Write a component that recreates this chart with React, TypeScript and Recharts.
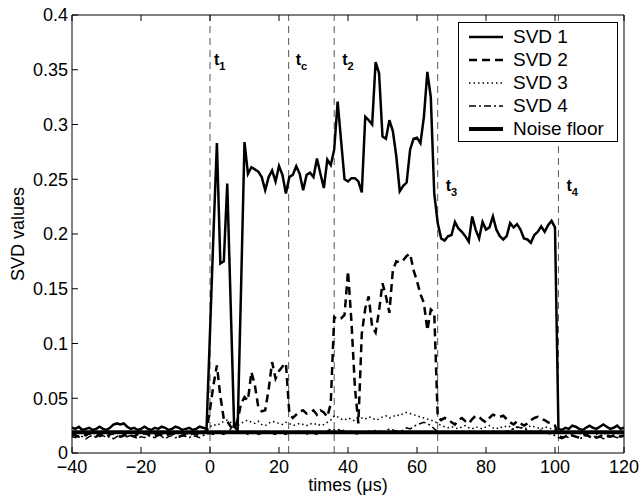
import { LineChart, Line, XAxis, YAxis, ReferenceLine, Legend } from "recharts";

// one sample per microsecond, starting at -40 us
const startTime = -40;

// SVD 1 (solid)
const svd1 = [
  0.023, 0.022, 0.024, 0.021, 0.022, 0.023, 0.021, 0.022, 0.024, 0.022,
  0.021, 0.023, 0.026, 0.027, 0.026, 0.027, 0.024, 0.022, 0.023, 0.021,
  0.022, 0.024, 0.022, 0.021, 0.023, 0.022, 0.024, 0.023, 0.021, 0.022,
  0.024, 0.023, 0.021, 0.022, 0.023, 0.021, 0.022, 0.024, 0.023, 0.022,
  0.11, 0.2, 0.283, 0.173, 0.175, 0.246, 0.135, 0.024, 0.021, 0.15,
  0.284, 0.255, 0.261, 0.259, 0.257, 0.252, 0.24, 0.252, 0.258, 0.248,
  0.262, 0.254, 0.237, 0.252, 0.254, 0.262, 0.255, 0.24, 0.254, 0.256,
  0.252, 0.269, 0.255, 0.242, 0.268, 0.263, 0.277, 0.321, 0.285, 0.25,
  0.248, 0.251, 0.251, 0.248, 0.238, 0.307, 0.304, 0.3, 0.357, 0.347,
  0.289, 0.287, 0.304, 0.294, 0.271, 0.239, 0.244, 0.247, 0.277, 0.287,
  0.288, 0.283, 0.307, 0.348, 0.325, 0.237, 0.21, 0.196, 0.194, 0.198,
  0.199, 0.211, 0.205, 0.202, 0.198, 0.193, 0.216, 0.204, 0.196, 0.211,
  0.204, 0.206, 0.216, 0.204, 0.198, 0.195, 0.198, 0.21, 0.206, 0.209,
  0.204, 0.196, 0.195, 0.192, 0.199, 0.202, 0.207, 0.202, 0.208, 0.212,
  0.206, 0.022, 0.021, 0.023, 0.022, 0.025, 0.024, 0.022, 0.021, 0.023,
  0.025, 0.023, 0.022, 0.024, 0.026, 0.024, 0.022, 0.023, 0.025, 0.022, 0.023,
];

// SVD 2 (dashed)
const svd2 = [
  0.017, 0.016, 0.015, 0.017, 0.016, 0.018, 0.016, 0.015, 0.017, 0.016,
  0.015, 0.017, 0.018, 0.016, 0.015, 0.016, 0.017, 0.016, 0.015, 0.017,
  0.016, 0.018, 0.017, 0.015, 0.016, 0.017, 0.016, 0.015, 0.017, 0.018,
  0.016, 0.015, 0.016, 0.017, 0.016, 0.018, 0.017, 0.016, 0.018, 0.02,
  0.04, 0.062, 0.08, 0.052, 0.031, 0.029, 0.024, 0.022, 0.03, 0.045,
  0.051, 0.048, 0.074, 0.062, 0.042, 0.038, 0.039, 0.058, 0.083, 0.068,
  0.075, 0.079, 0.082, 0.036, 0.032, 0.035, 0.038, 0.039, 0.036, 0.037,
  0.039, 0.035, 0.039, 0.037, 0.033, 0.045, 0.124, 0.122, 0.123, 0.126,
  0.166, 0.12, 0.06, 0.027, 0.109, 0.132, 0.143, 0.115, 0.11, 0.13,
  0.155, 0.143, 0.128, 0.167, 0.175, 0.174, 0.176, 0.18, 0.182, 0.167,
  0.157, 0.145, 0.137, 0.112, 0.131, 0.128, 0.033, 0.03, 0.032, 0.031,
  0.028, 0.026, 0.03, 0.032, 0.029, 0.027, 0.031, 0.034, 0.033, 0.03,
  0.028, 0.032, 0.035, 0.034, 0.033, 0.034, 0.031, 0.028, 0.026, 0.029,
  0.027, 0.025, 0.027, 0.03, 0.032, 0.033, 0.031, 0.03, 0.028, 0.027,
  0.025, 0.016, 0.014, 0.015, 0.017, 0.016, 0.015, 0.014, 0.016, 0.017,
  0.015, 0.016, 0.014, 0.015, 0.017, 0.016, 0.015, 0.016, 0.017, 0.015, 0.016,
];

// SVD 3 (dotted)
const svd3 = [
  0.018, 0.017, 0.019, 0.018, 0.017, 0.018, 0.019, 0.017, 0.018, 0.019,
  0.018, 0.017, 0.018, 0.019, 0.018, 0.017, 0.019, 0.018, 0.017, 0.018,
  0.019, 0.018, 0.017, 0.018, 0.019, 0.018, 0.017, 0.018, 0.019, 0.018,
  0.017, 0.018, 0.019, 0.018, 0.017, 0.018, 0.019, 0.018, 0.019, 0.02,
  0.024, 0.026, 0.025, 0.027, 0.029, 0.03, 0.028, 0.026, 0.025, 0.027,
  0.029, 0.03, 0.028, 0.027, 0.029, 0.026, 0.025, 0.027, 0.029, 0.028,
  0.027, 0.026, 0.028, 0.027, 0.025, 0.026, 0.027, 0.026, 0.025, 0.027,
  0.026, 0.027, 0.025, 0.026, 0.028, 0.03, 0.034, 0.033, 0.031, 0.03,
  0.032, 0.031, 0.029, 0.03, 0.032, 0.031, 0.033, 0.032, 0.03, 0.031,
  0.033, 0.034, 0.032, 0.033, 0.035, 0.034, 0.036, 0.037, 0.036, 0.035,
  0.034, 0.033, 0.032, 0.031, 0.03, 0.029, 0.027, 0.025, 0.024, 0.023,
  0.024, 0.023, 0.022, 0.024, 0.025, 0.023, 0.022, 0.024, 0.023, 0.022,
  0.024, 0.025, 0.023, 0.022, 0.024, 0.023, 0.025, 0.024, 0.022, 0.023,
  0.024, 0.022, 0.023, 0.025, 0.024, 0.023, 0.022, 0.024, 0.023, 0.022,
  0.021, 0.019, 0.018, 0.019, 0.018, 0.017, 0.019, 0.018, 0.017, 0.018,
  0.019, 0.018, 0.017, 0.019, 0.018, 0.017, 0.018, 0.019, 0.018, 0.017, 0.018,
];

// SVD 4 (dash-dot)
const svd4 = [
  0.015, 0.014, 0.016, 0.015, 0.013, 0.015, 0.016, 0.014, 0.015, 0.016,
  0.014, 0.015, 0.013, 0.015, 0.016, 0.014, 0.015, 0.016, 0.015, 0.013,
  0.015, 0.014, 0.016, 0.015, 0.014, 0.016, 0.015, 0.013, 0.015, 0.016,
  0.014, 0.015, 0.016, 0.015, 0.014, 0.016, 0.015, 0.014, 0.016, 0.017,
  0.018, 0.017, 0.019, 0.018, 0.017, 0.019, 0.022, 0.026, 0.02, 0.018,
  0.019, 0.017, 0.018, 0.019, 0.017, 0.018, 0.02, 0.019, 0.018, 0.017,
  0.019, 0.018, 0.017, 0.019, 0.018, 0.02, 0.019, 0.018, 0.017, 0.019,
  0.018, 0.017, 0.019, 0.018, 0.02, 0.022, 0.021, 0.022, 0.02, 0.021,
  0.019, 0.02, 0.018, 0.017, 0.019, 0.018, 0.02, 0.019, 0.021, 0.02,
  0.019, 0.02, 0.022, 0.021, 0.02, 0.019, 0.021, 0.023, 0.022, 0.024,
  0.026, 0.027, 0.028, 0.027, 0.025, 0.022, 0.02, 0.019, 0.018, 0.019,
  0.018, 0.019, 0.02, 0.018, 0.019, 0.02, 0.019, 0.018, 0.019, 0.02,
  0.019, 0.018, 0.02, 0.019, 0.018, 0.019, 0.02, 0.021, 0.022, 0.024,
  0.023, 0.022, 0.021, 0.02, 0.019, 0.02, 0.021, 0.019, 0.018, 0.017,
  0.016, 0.014, 0.013, 0.015, 0.014, 0.016, 0.015, 0.013, 0.014, 0.016,
  0.015, 0.014, 0.016, 0.015, 0.013, 0.014, 0.016, 0.015, 0.014, 0.015, 0.016,
];

const noiseFloor = 0.019;

// event markers
const eventTimes = [0, 22.8, 36, 66, 101];
const eventSubs = ["1", "c", "2", "3", "4"];

const xTicks = [-40, -20, 0, 20, 40, 60, 80, 100, 120];
const yTicks = [0, 0.05, 0.1, 0.15, 0.2, 0.25, 0.3, 0.35, 0.4];

const seriesNames = ["SVD 1", "SVD 2", "SVD 3", "SVD 4", "Noise floor"];

const rows = svd1.map((v, i) => ({
  time: startTime + i,
  svd1: v,
  svd2: svd2[i],
  svd3: svd3[i],
  svd4: svd4[i],
}));

const FONT = "'Liberation Sans', Arial, Helvetica, sans-serif";

// styles per legend entry (same order as seriesNames)
const lineStyles = [
  { width: 2.5, dash: undefined },
  { width: 2.5, dash: "8 5" },
  { width: 1.5, dash: "1.5 3" },
  { width: 1.5, dash: "7 3 2 3" },
  { width: 4, dash: undefined },
];

// label offsets from the top of the plot, per event
const labelDx = [4, 7, 8, 8, 8];
const labelDy = [50, 50, 50, 176, 176];

const fmtX = (v: number) => (v < 0 ? "\u2212" + Math.abs(v) : String(v));

const renderLegend = () => (
  <div
    style={{
      border: "1px solid #000",
      background: "#fff",
      width: 158,
      height: 116,
      paddingTop: 2,
      boxSizing: "content-box",
      fontFamily: FONT,
      fontSize: 19,
      color: "#000",
    }}
  >
    {seriesNames.map((name, i) => (
      <div key={name} style={{ display: "flex", alignItems: "center", height: 23 }}>
        <svg width={54} height={12}>
          <line
            x1={10}
            x2={44}
            y1={6}
            y2={6}
            stroke="#000"
            strokeWidth={lineStyles[i].width}
            strokeDasharray={lineStyles[i].dash}
          />
        </svg>
        <span style={{ lineHeight: "23px" }}>{name}</span>
      </div>
    ))}
  </div>
);

export default function App() {
  return (
    <div
      style={{
        position: "absolute",
        left: 0,
        top: 0,
        width: 643,
        height: 497,
        background: "#fff",
        fontFamily: FONT,
      }}
    >
      <LineChart width={643} height={497} data={rows} margin={{ top: 14, right: 18, bottom: 0, left: 0 }}>
        <XAxis
          dataKey="time"
          type="number"
          domain={[-40, 120]}
          ticks={xTicks}
          tickFormatter={fmtX}
          height={44}
          tickSize={-6}
          tickMargin={13}
          stroke="#000"
          tick={{ fill: "#000", fontSize: 18, fontFamily: FONT }}
          label={{ value: "times (\u03bcs)", position: "insideBottom", offset: 6, fill: "#000", fontSize: 18, fontFamily: FONT }}
        />
        <XAxis
          xAxisId="top"
          orientation="top"
          dataKey="time"
          type="number"
          domain={[-40, 120]}
          ticks={xTicks}
          tickFormatter={() => ""}
          height={1}
          tickSize={-6}
          stroke="#000"
        />
        <YAxis
          type="number"
          domain={[0, 0.4]}
          ticks={yTicks}
          width={72}
          tickSize={-6}
          tickMargin={10}
          stroke="#000"
          tick={{ fill: "#000", fontSize: 18, fontFamily: FONT }}
          label={{ value: "SVD values", angle: -90, position: "center", dx: -18, fill: "#000", fontSize: 18, fontFamily: FONT }}
        />
        <YAxis
          yAxisId="right"
          orientation="right"
          type="number"
          domain={[0, 0.4]}
          ticks={yTicks}
          tickFormatter={() => ""}
          width={1}
          tickSize={-6}
          stroke="#000"
        />
        {eventTimes.map((t, i) => (
          <ReferenceLine
            key={t}
            x={t}
            stroke="#555"
            strokeWidth={1}
            strokeDasharray="7 5"
            label={(props: any) => {
              const vb = props.viewBox || {};
              return (
                <text
                  x={vb.x + labelDx[i]}
                  y={vb.y + labelDy[i]}
                  fontFamily={FONT}
                  fontWeight="bold"
                  fontSize={16}
                  fill="#000"
                >
                  <tspan>t</tspan>
                  <tspan dy={5} fontSize={11}>
                    {eventSubs[i]}
                  </tspan>
                </text>
              );
            }}
          />
        ))}
        <Line dataKey="svd4" name="SVD 4" stroke="#000" strokeWidth={1.5} strokeDasharray="7 3 2 3" dot={false} isAnimationActive={false} />
        <Line dataKey="svd3" name="SVD 3" stroke="#000" strokeWidth={1.5} strokeDasharray="1.5 3" dot={false} isAnimationActive={false} />
        <Line dataKey="svd2" name="SVD 2" stroke="#000" strokeWidth={2.5} strokeDasharray="8 5" dot={false} isAnimationActive={false} />
        <Line dataKey="svd1" name="SVD 1" stroke="#000" strokeWidth={2.5} dot={false} isAnimationActive={false} />
        <ReferenceLine y={noiseFloor} stroke="#000" strokeWidth={4} />
        <Legend
          layout="vertical"
          align="center"
          verticalAlign="middle"
          content={renderLegend}
          wrapperStyle={{ left: 458, top: 22, width: 160, height: 118 }}
        />
      </LineChart>
    </div>
  );
}
